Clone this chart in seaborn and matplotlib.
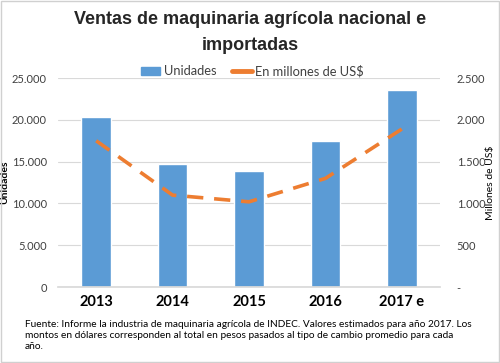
import numpy as np
import pandas as pd
import matplotlib
matplotlib.use("Agg")
import matplotlib.pyplot as plt
import seaborn as sns
from matplotlib.patches import Patch, Rectangle
from matplotlib.lines import Line2D
from matplotlib.ticker import FuncFormatter

# data
years = ["2013", "2014", "2015", "2016", "2017 e"]
unidades = [20300, 14700, 13900, 17500, 23600]
millones_usd = [1750, 1100, 1020, 1300, 1890]

bar_color = "#5B9BD5"
line_color = "#ED7D31"
grid_color = "#D9D9D9"
text_color = "#404040"

sns.set_theme(style="white")
plt.rcParams["font.family"] = ["Lato", "DejaVu Sans"]

df = pd.DataFrame({"year": years, "unidades": unidades, "usd": millones_usd})

fig = plt.figure(figsize=(5.0, 3.63), dpi=100)
ax = fig.add_axes([0.116, 0.209, 0.764, 0.576])

sns.barplot(data=df, x="year", y="unidades", color=bar_color, width=0.39,
            saturation=1, ax=ax, zorder=2)
ax.set_xlim(-0.5, len(years) - 0.5)
ax.set_ylim(0, 25000)
ax.set_yticks(np.arange(0, 25001, 5000))
ax.yaxis.set_major_formatter(FuncFormatter(lambda v, p: f"{int(v):,}".replace(",", ".")))
ax.grid(axis="y", color=grid_color, linewidth=0.8, zorder=0)
ax.set_axisbelow(True)
for s in ["top", "left", "right"]:
    ax.spines[s].set_visible(False)
ax.spines["bottom"].set_color(grid_color)
ax.tick_params(axis="y", length=0, pad=8, labelsize=8, labelcolor=text_color)
ax.tick_params(axis="x", length=0, pad=6)
ax.set_xticks(range(len(years)))
ax.set_xticklabels(years, fontsize=10.5, fontweight="bold", color="black")
ax.set_xlabel("")
ax.set_ylabel("Unidades", fontsize=7.5, fontweight="bold", color="black")
ax.yaxis.set_label_coords(-0.128, 0.5)

ax2 = ax.twinx()
sns.lineplot(x=np.arange(len(years)), y=millones_usd, color=line_color, linewidth=2.6,
             ax=ax2, zorder=3)
ax2.lines[0].set_dashes((4.5, 3.0))
ax2.set_ylim(0, 2500)
ax2.set_yticks(np.arange(0, 2501, 500))
ax2.yaxis.set_major_formatter(
    FuncFormatter(lambda v, p: "-" if v == 0 else f"{int(v):,}".replace(",", ".")))
for s in ["top", "left", "right", "bottom"]:
    ax2.spines[s].set_visible(False)
ax2.tick_params(axis="y", length=0, pad=12, labelsize=8, labelcolor=text_color)
ax2.set_ylabel("Millones de US$", fontsize=7.5, color="black")
ax2.yaxis.set_label_coords(1.12, 0.5)

handles = [Patch(facecolor=bar_color, edgecolor=bar_color),
           Line2D([0], [0], color=line_color, linewidth=3.5, linestyle="-")]
fig.legend(handles, ["Unidades", "En millones de US$"], loc="center",
           bbox_to_anchor=(0.505, 1 - 71 / 363), ncol=2, frameon=False,
           fontsize=9.3, handlelength=1.5, handleheight=0.6, columnspacing=1.2,
           handletextpad=0.3, labelcolor=text_color)

title_font = ["Liberation Sans", "DejaVu Sans"]
fig.text(0.5, 1 - 19 / 363, "Ventas de maquinaria agrícola nacional e",
         ha="center", va="center", fontsize=13, fontweight="bold", family=title_font)
fig.text(0.5, 1 - 45 / 363, "importadas",
         ha="center", va="center", fontsize=13, fontweight="bold", family=title_font)

caption = ("Fuente: Informe la industria de maquinaria agrícola de INDEC. Valores estimados para año 2017. Los\n"
           "montos en dólares corresponden al total en pesos pasados al tipo de cambio promedio para cada\n"
           "año.")
fig.text(25 / 500, 1 - 320 / 363, caption, ha="left", va="top", fontsize=7.3,
         color="black", linespacing=1.3)

fig.patches.append(Rectangle((0.002, 0.003), 0.996, 0.994, transform=fig.transFigure,
                             fill=False, edgecolor="#D0D0D0", linewidth=1))

fig.savefig("out.png", dpi=100)
